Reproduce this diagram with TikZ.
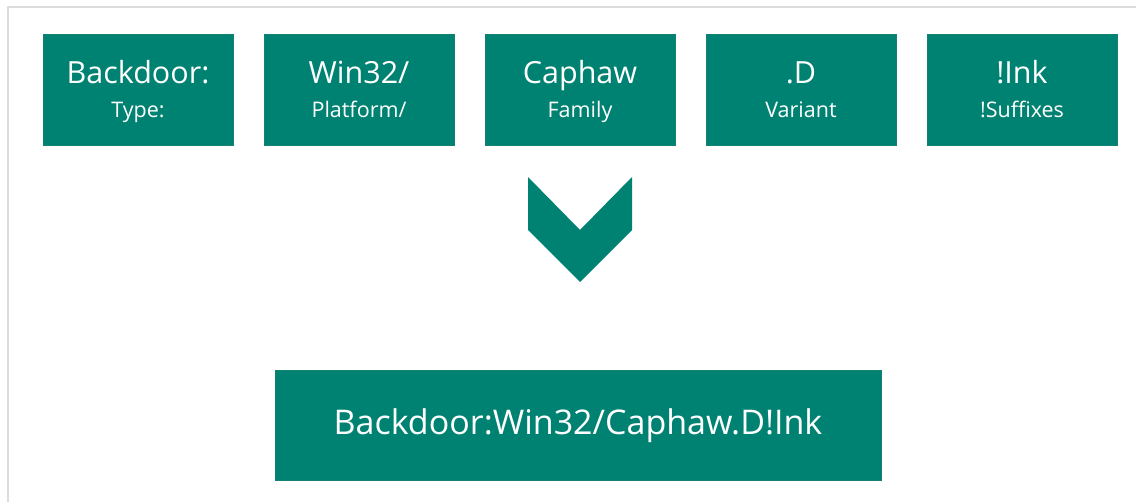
\documentclass[tikz,border=0pt]{standalone}
\usepackage{fontspec}
\setmainfont{Open Sans}
\definecolor{teal}{HTML}{008272}
\definecolor{framegray}{HTML}{DCDCDC}
\tikzset{
  part/.style={fill=teal, draw=teal!85!gray, line width=0.6pt, minimum width=190pt, minimum height=111pt, inner sep=0pt},
  whole/.style={fill=teal, draw=teal!85!gray, line width=0.6pt, minimum width=606pt, minimum height=110pt, inner sep=0pt},
  bigtxt/.style={text=white, anchor=base, inner sep=0pt, font=\fontsize{30.5}{36}\selectfont},
  smalltxt/.style={text=white, anchor=base, inner sep=0pt, font=\fontsize{21.5}{26}\selectfont},
  resulttxt/.style={text=white, anchor=base, inner sep=0pt, font=\fontsize{34}{40}\selectfont},
}
\begin{document}
\begin{tikzpicture}[x=1pt, y=-1pt]
\useasboundingbox (0,0) rectangle (1136,502);
\fill[white] (0,0) rectangle (1136,502);
% outer frame (top and left edges)
\draw[framegray, line width=2pt] (8,502) -- (8,7) -- (1136,7);

% the five name parts
\foreach \i/\nm/\ds in {0/{Backdoor:}/{Type:}, 1/{Win32/}/{Platform/}, 2/{Caphaw}/{Family}, 3/{.D}/{Variant}, 4/{!Ink}/{!Suffixes}}{
  \node[part] (p\i) at ({138+221*\i}, 89.5) {};
  \node[bigtxt] (p\i big) at ([yshift=5.5pt]p\i.center) {\nm};
  \node[smalltxt] (p\i small) at ([yshift=-28.5pt]p\i.center) {\ds};
}

% chevron pointing down
\fill[teal] (528,177) -- (580,230) -- (632,177) -- (632,230) -- (580,282) -- (528,230) -- cycle;

% the full name
\node[whole] (full) at (578,425) {};
\node[resulttxt] (fulltxt) at ([yshift=-10pt]full.center) {Backdoor:Win32/Caphaw.D!Ink};
\end{tikzpicture}
\end{document}
